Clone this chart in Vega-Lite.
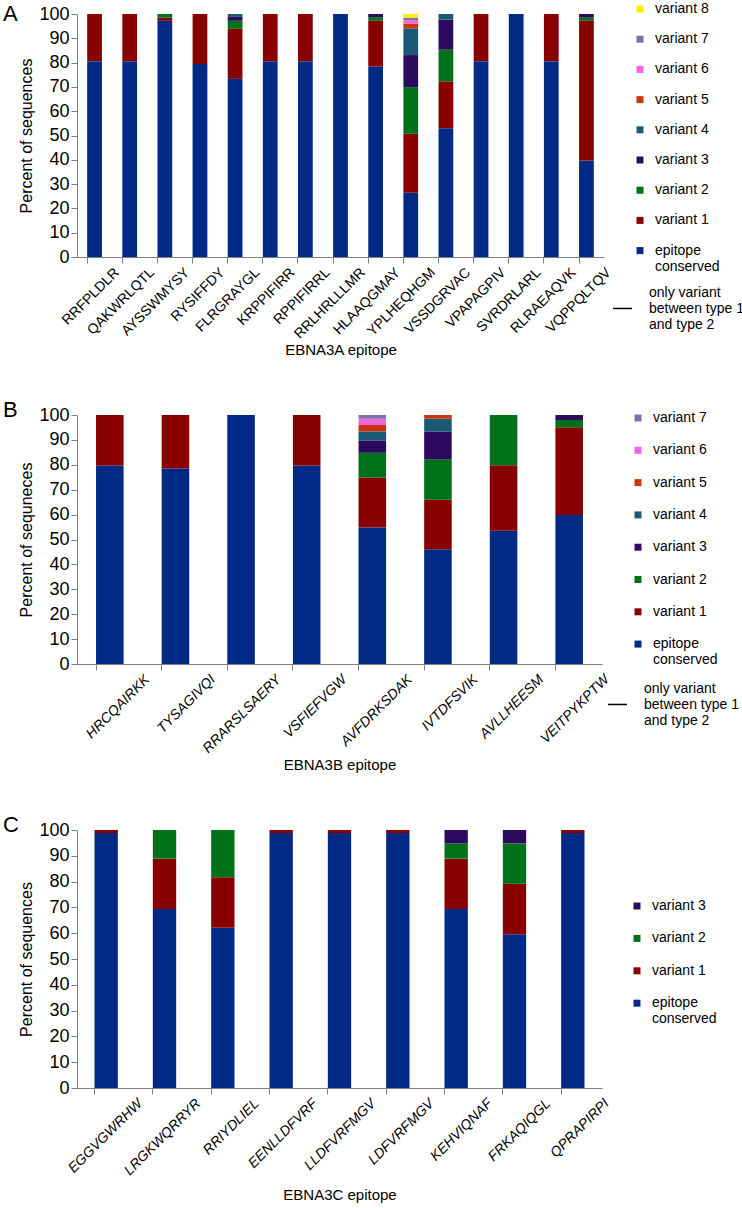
{
  "$schema": "https://vega.github.io/schema/vega-lite/v6.json",
  "background": "white",
  "padding": {"left": 2, "top": 2, "right": 0, "bottom": 0},
  "spacing": 41,
  "config": {
    "font": "Liberation Sans",
    "view": {"stroke": null},
    "axis": {"grid": false, "domainColor": "#808080", "tickColor": "#808080", "labelColor": "black", "titleColor": "black", "titleFontWeight": "normal", "tickSize": 6},
    "title": {"fontWeight": "normal", "fontSize": 22, "anchor": "start", "frame": "bounds", "color": "black"}
  },
  "resolve": {
    "scale": {"color": "independent", "shape": "independent", "x": "independent", "y": "independent"},
    "legend": {"color": "independent", "shape": "independent"}
  },
  "vconcat": [
    {
      "title": {"text": "A", "offset": -24, "dx": -16},
      "width": 527,
      "height": 243,
      "layer": [
        {
          "data": {"values": [
            {"epitope": "RRFPLDLR", "variant": "epitope conserved", "percent": 80.6},
            {"epitope": "RRFPLDLR", "variant": "variant 1", "percent": 19.4},
            {"epitope": "QAKWRLQTL", "variant": "epitope conserved", "percent": 80.6},
            {"epitope": "QAKWRLQTL", "variant": "variant 1", "percent": 19.4},
            {"epitope": "AYSSWMYSY", "variant": "epitope conserved", "percent": 97.2},
            {"epitope": "AYSSWMYSY", "variant": "variant 1", "percent": 1.3},
            {"epitope": "AYSSWMYSY", "variant": "variant 2", "percent": 1.5},
            {"epitope": "RYSIFFDY", "variant": "epitope conserved", "percent": 79.4},
            {"epitope": "RYSIFFDY", "variant": "variant 1", "percent": 20.6},
            {"epitope": "FLRGRAYGL", "variant": "epitope conserved", "percent": 73.3},
            {"epitope": "FLRGRAYGL", "variant": "variant 1", "percent": 20.6},
            {"epitope": "FLRGRAYGL", "variant": "variant 2", "percent": 3.3},
            {"epitope": "FLRGRAYGL", "variant": "variant 3", "percent": 1.6},
            {"epitope": "FLRGRAYGL", "variant": "variant 4", "percent": 1.2},
            {"epitope": "KRPPIFIRR", "variant": "epitope conserved", "percent": 80.6},
            {"epitope": "KRPPIFIRR", "variant": "variant 1", "percent": 19.4},
            {"epitope": "RPPIFIRRL", "variant": "epitope conserved", "percent": 80.6},
            {"epitope": "RPPIFIRRL", "variant": "variant 1", "percent": 19.4},
            {"epitope": "RRLHRLLLMR", "variant": "epitope conserved", "percent": 100},
            {"epitope": "HLAAQGMAY", "variant": "epitope conserved", "percent": 78.4},
            {"epitope": "HLAAQGMAY", "variant": "variant 1", "percent": 18.8},
            {"epitope": "HLAAQGMAY", "variant": "variant 2", "percent": 1.5},
            {"epitope": "HLAAQGMAY", "variant": "variant 3", "percent": 1.3},
            {"epitope": "YPLHEQHGM", "variant": "epitope conserved", "percent": 26.5},
            {"epitope": "YPLHEQHGM", "variant": "variant 1", "percent": 24.2},
            {"epitope": "YPLHEQHGM", "variant": "variant 2", "percent": 19.2},
            {"epitope": "YPLHEQHGM", "variant": "variant 3", "percent": 13.2},
            {"epitope": "YPLHEQHGM", "variant": "variant 4", "percent": 11.0},
            {"epitope": "YPLHEQHGM", "variant": "variant 5", "percent": 2.0},
            {"epitope": "YPLHEQHGM", "variant": "variant 6", "percent": 1.3},
            {"epitope": "YPLHEQHGM", "variant": "variant 7", "percent": 1.1},
            {"epitope": "YPLHEQHGM", "variant": "variant 8", "percent": 1.5},
            {"epitope": "VSSDGRVAC", "variant": "epitope conserved", "percent": 53.0},
            {"epitope": "VSSDGRVAC", "variant": "variant 1", "percent": 19.3},
            {"epitope": "VSSDGRVAC", "variant": "variant 2", "percent": 13.0},
            {"epitope": "VSSDGRVAC", "variant": "variant 3", "percent": 12.4},
            {"epitope": "VSSDGRVAC", "variant": "variant 4", "percent": 2.3},
            {"epitope": "VPAPAGPIV", "variant": "epitope conserved", "percent": 80.6},
            {"epitope": "VPAPAGPIV", "variant": "variant 1", "percent": 19.4},
            {"epitope": "SVRDRLARL", "variant": "epitope conserved", "percent": 100},
            {"epitope": "RLRAEAQVK", "variant": "epitope conserved", "percent": 80.6},
            {"epitope": "RLRAEAQVK", "variant": "variant 1", "percent": 19.4},
            {"epitope": "VQPPQLTQV", "variant": "epitope conserved", "percent": 39.7},
            {"epitope": "VQPPQLTQV", "variant": "variant 1", "percent": 57.5},
            {"epitope": "VQPPQLTQV", "variant": "variant 2", "percent": 1.3},
            {"epitope": "VQPPQLTQV", "variant": "variant 3", "percent": 1.5}
          ]},
          "mark": {"type": "bar"},
          "encoding": {
            "x": {"field": "epitope", "type": "nominal", "sort": null,
              "scale": {"paddingInner": 0.58, "paddingOuter": 0.29},
              "axis": {"title": "EBNA3A epitope", "titleFontSize": 15, "labelAngle": -45, "labelFontSize": 14, "bandPosition": 0, "labelOffset": 17.5, "labelPadding": 2, "titlePadding": 2}},
            "y": {"field": "percent", "type": "quantitative", "stack": "zero",
              "scale": {"domain": [0, 100], "nice": false},
              "axis": {"title": "Percent of sequences", "values": [0, 10, 20, 30, 40, 50, 60, 70, 80, 90, 100], "labelFontSize": 18, "titleFontSize": 16, "titlePadding": 4}},
            "color": {"field": "variant", "type": "nominal",
              "scale": {"domain": ["variant 8", "variant 7", "variant 6", "variant 5", "variant 4", "variant 3", "variant 2", "variant 1", "epitope conserved"],
                        "range": ["#ffee00", "#7f70aa", "#ee66dd", "#cc3311", "#1b5a75", "#2c0a5e", "#007019", "#880000", "#002a86"]},
              "legend": {"orient": "none", "legendX": 556, "legendY": -12, "title": null, "symbolType": "square", "symbolSize": 49, "symbolStrokeWidth": 0, "labelFontSize": 14, "labelOffset": 8, "rowPadding": 16.2, "padding": 0,
                "labelExpr": "datum.label == 'epitope conserved' ? ['epitope', 'conserved'] : datum.label"}},
            "order": {"field": "variant", "sort": "ascending"}
          }
        },
        {
          "data": {"values": [{"note": "only variant between type 1 and type 2"}]},
          "mark": {"type": "point", "opacity": 0, "filled": false, "color": "black"},
          "encoding": {
            "shape": {"field": "note", "type": "nominal", "scale": {"range": ["M-1,1.68H1"]},
              "legend": {"orient": "none", "legendX": 535, "legendY": 268, "title": null, "labelFontSize": 14, "labelOffset": 16, "symbolSize": 361, "symbolStrokeWidth": 1.5, "symbolStrokeColor": "black", "symbolOpacity": 1, "padding": 0,
                "labelExpr": "['only variant', 'between type 1', 'and type 2']"}}
          }
        }
      ]
    },
    {
      "title": {"text": "B", "offset": -16, "dx": -16},
      "width": 525,
      "height": 249,
      "layer": [
        {
          "data": {"values": [
            {"epitope": "HRCQAIRKK", "variant": "epitope conserved", "percent": 79.7},
            {"epitope": "HRCQAIRKK", "variant": "variant 1", "percent": 20.3},
            {"epitope": "TYSAGIVQI", "variant": "epitope conserved", "percent": 78.5},
            {"epitope": "TYSAGIVQI", "variant": "variant 1", "percent": 21.5},
            {"epitope": "RRARSLSAERY", "variant": "epitope conserved", "percent": 100},
            {"epitope": "VSFIEFVGW", "variant": "epitope conserved", "percent": 79.7},
            {"epitope": "VSFIEFVGW", "variant": "variant 1", "percent": 20.3},
            {"epitope": "AVFDRKSDAK", "variant": "epitope conserved", "percent": 54.8},
            {"epitope": "AVFDRKSDAK", "variant": "variant 1", "percent": 20.1},
            {"epitope": "AVFDRKSDAK", "variant": "variant 2", "percent": 9.9},
            {"epitope": "AVFDRKSDAK", "variant": "variant 3", "percent": 5.0},
            {"epitope": "AVFDRKSDAK", "variant": "variant 4", "percent": 3.6},
            {"epitope": "AVFDRKSDAK", "variant": "variant 5", "percent": 2.6},
            {"epitope": "AVFDRKSDAK", "variant": "variant 6", "percent": 2.5},
            {"epitope": "AVFDRKSDAK", "variant": "variant 7", "percent": 1.5},
            {"epitope": "IVTDFSVIK", "variant": "epitope conserved", "percent": 46.1},
            {"epitope": "IVTDFSVIK", "variant": "variant 1", "percent": 19.9},
            {"epitope": "IVTDFSVIK", "variant": "variant 2", "percent": 16.2},
            {"epitope": "IVTDFSVIK", "variant": "variant 3", "percent": 11.2},
            {"epitope": "IVTDFSVIK", "variant": "variant 4", "percent": 5.1},
            {"epitope": "IVTDFSVIK", "variant": "variant 5", "percent": 1.5},
            {"epitope": "AVLLHEESM", "variant": "epitope conserved", "percent": 53.5},
            {"epitope": "AVLLHEESM", "variant": "variant 1", "percent": 26.3},
            {"epitope": "AVLLHEESM", "variant": "variant 2", "percent": 20.2},
            {"epitope": "VEITPYKPTW", "variant": "epitope conserved", "percent": 59.8},
            {"epitope": "VEITPYKPTW", "variant": "variant 1", "percent": 35.3},
            {"epitope": "VEITPYKPTW", "variant": "variant 2", "percent": 2.9},
            {"epitope": "VEITPYKPTW", "variant": "variant 3", "percent": 2.0}
          ]},
          "mark": {"type": "bar"},
          "encoding": {
            "x": {"field": "epitope", "type": "nominal", "sort": null,
              "scale": {"paddingInner": 0.58, "paddingOuter": 0.29},
              "axis": {"title": "EBNA3B epitope", "titleFontSize": 15, "labelAngle": -45, "labelFontSize": 14, "labelFontStyle": "italic", "bandPosition": 0, "labelOffset": 32.8, "labelPadding": 2, "titlePadding": 2}},
            "y": {"field": "percent", "type": "quantitative", "stack": "zero",
              "scale": {"domain": [0, 100], "nice": false},
              "axis": {"title": "Percent of sequneces", "values": [0, 10, 20, 30, 40, 50, 60, 70, 80, 90, 100], "labelFontSize": 18, "titleFontSize": 16, "titlePadding": 4}},
            "color": {"field": "variant", "type": "nominal",
              "scale": {"domain": ["variant 7", "variant 6", "variant 5", "variant 4", "variant 3", "variant 2", "variant 1", "epitope conserved"],
                        "range": ["#7f70aa", "#ee66dd", "#cc3311", "#1b5a75", "#2c0a5e", "#007019", "#880000", "#002a86"]},
              "legend": {"orient": "none", "legendX": 554, "legendY": -4, "title": null, "symbolType": "square", "symbolSize": 49, "symbolStrokeWidth": 0, "labelFontSize": 14, "labelOffset": 8, "rowPadding": 18.3, "padding": 0,
                "labelExpr": "datum.label == 'epitope conserved' ? ['epitope', 'conserved'] : datum.label"}},
            "order": {"field": "variant", "sort": "ascending"}
          }
        },
        {
          "data": {"values": [{"note": "only variant between type 1 and type 2"}]},
          "mark": {"type": "point", "opacity": 0, "filled": false, "color": "black"},
          "encoding": {
            "shape": {"field": "note", "type": "nominal", "scale": {"range": ["M-1,1.68H1"]},
              "legend": {"orient": "none", "legendX": 530, "legendY": 263, "title": null, "labelFontSize": 14, "labelOffset": 16, "symbolSize": 361, "symbolStrokeWidth": 1.5, "symbolStrokeColor": "black", "symbolOpacity": 1, "padding": 0,
                "labelExpr": "['only variant', 'between type 1', 'and type 2']"}}
          }
        }
      ]
    },
    {
      "title": {"text": "C", "offset": -16, "dx": -16},
      "width": 525,
      "height": 258,
      "data": {"values": [
        {"epitope": "EGGVGWRHW", "variant": "epitope conserved", "percent": 98.8},
        {"epitope": "EGGVGWRHW", "variant": "variant 1", "percent": 1.2},
        {"epitope": "LRGKWQRRYR", "variant": "epitope conserved", "percent": 69.4},
        {"epitope": "LRGKWQRRYR", "variant": "variant 1", "percent": 19.5},
        {"epitope": "LRGKWQRRYR", "variant": "variant 2", "percent": 11.1},
        {"epitope": "RRIYDLIEL", "variant": "epitope conserved", "percent": 62.1},
        {"epitope": "RRIYDLIEL", "variant": "variant 1", "percent": 19.6},
        {"epitope": "RRIYDLIEL", "variant": "variant 2", "percent": 18.3},
        {"epitope": "EENLLDFVRF", "variant": "epitope conserved", "percent": 98.8},
        {"epitope": "EENLLDFVRF", "variant": "variant 1", "percent": 1.2},
        {"epitope": "LLDFVRFMGV", "variant": "epitope conserved", "percent": 98.8},
        {"epitope": "LLDFVRFMGV", "variant": "variant 1", "percent": 1.2},
        {"epitope": "LDFVRFMGV", "variant": "epitope conserved", "percent": 98.8},
        {"epitope": "LDFVRFMGV", "variant": "variant 1", "percent": 1.2},
        {"epitope": "KEHVIQNAF", "variant": "epitope conserved", "percent": 69.4},
        {"epitope": "KEHVIQNAF", "variant": "variant 1", "percent": 19.5},
        {"epitope": "KEHVIQNAF", "variant": "variant 2", "percent": 5.9},
        {"epitope": "KEHVIQNAF", "variant": "variant 3", "percent": 5.2},
        {"epitope": "FRKAQIQGL", "variant": "epitope conserved", "percent": 59.6},
        {"epitope": "FRKAQIQGL", "variant": "variant 1", "percent": 19.6},
        {"epitope": "FRKAQIQGL", "variant": "variant 2", "percent": 15.6},
        {"epitope": "FRKAQIQGL", "variant": "variant 3", "percent": 5.2},
        {"epitope": "QPRAPIRPI", "variant": "epitope conserved", "percent": 98.8},
        {"epitope": "QPRAPIRPI", "variant": "variant 1", "percent": 1.2}
      ]},
      "mark": {"type": "bar"},
      "encoding": {
        "x": {"field": "epitope", "type": "nominal", "sort": null,
          "scale": {"paddingInner": 0.6, "paddingOuter": 0.3},
          "axis": {"title": "EBNA3C epitope", "titleFontSize": 15, "labelAngle": -45, "labelFontSize": 14, "labelFontStyle": "italic", "bandPosition": 0, "labelOffset": 29.1, "labelPadding": 2, "titlePadding": 10}},
        "y": {"field": "percent", "type": "quantitative", "stack": "zero",
          "scale": {"domain": [0, 100], "nice": false},
          "axis": {"title": "Percent of sequences", "values": [0, 10, 20, 30, 40, 50, 60, 70, 80, 90, 100], "labelFontSize": 18, "titleFontSize": 16, "titlePadding": 4}},
        "color": {"field": "variant", "type": "nominal",
          "scale": {"domain": ["variant 3", "variant 2", "variant 1", "epitope conserved"],
                    "range": ["#2c0a5e", "#007019", "#880000", "#002a86"]},
          "legend": {"orient": "none", "legendX": 553, "legendY": 69, "title": null, "symbolType": "square", "symbolSize": 49, "symbolStrokeWidth": 0, "labelFontSize": 14, "labelOffset": 8, "rowPadding": 18.4, "padding": 0,
            "labelExpr": "datum.label == 'epitope conserved' ? ['epitope', 'conserved'] : datum.label"}},
        "order": {"field": "variant", "sort": "ascending"}
      }
    }
  ]
}
